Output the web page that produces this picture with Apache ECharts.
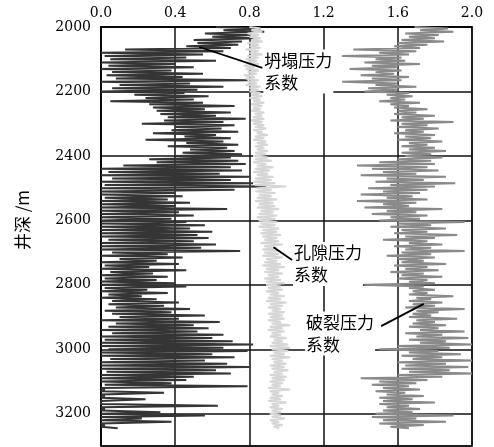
<!DOCTYPE html>
<html>
<head>
<meta charset="utf-8">
<script src="https://cdn.jsdelivr.net/npm/echarts@6/dist/echarts.min.js"></script>
<style>
  html, body { margin: 0; padding: 0; background: #fff; }
  #chart { width: 494px; height: 447px; }
</style>
</head>
<body>
<div id="chart"></div>
<script>
// depth samples every 10 m, 2000 .. 3240
const depthStart = 2000;
const depthStep = 10;
const xTicks = ['0.0', '0.4', '0.8', '1.2', '1.6', '2.0'];

// 坍塌压力系数: low / high swing of the log at each depth
const collapseLo = [
  0.62, 0.66, 0.56, 0.60, 0.50, 0.52, 0.46, 0.13, 0.00, 0.02,
  0.05, 0.00, 0.04, 0.00, 0.06, 0.03, 0.08, 0.00, 0.10, 0.06,
  0.00, 0.18, 0.24, 0.05, 0.26, 0.28, 0.30, 0.32, 0.36, 0.34,
  0.22, 0.40, 0.38, 0.28, 0.45, 0.24, 0.46, 0.36, 0.48, 0.44,
  0.40, 0.26, 0.30, 0.12, 0.00, 0.04, 0.00, 0.06, 0.00, 0.02,
  0.00, 0.00, 0.00, 0.02, 0.00, 0.00, 0.00, 0.00, 0.00, 0.00,
  0.00, 0.00, 0.00, 0.00, 0.00, 0.00, 0.04, 0.00, 0.00, 0.00,
  0.06, 0.00, 0.10, 0.00, 0.02, 0.00, 0.05, 0.00, 0.02, 0.00,
  0.00, 0.02, 0.00, 0.04, 0.00, 0.06, 0.04, 0.08, 0.02, 0.06,
  0.10, 0.00, 0.08, 0.04, 0.00, 0.06, 0.00, 0.02, 0.00, 0.00,
  0.04, 0.00, 0.00, 0.05, 0.00, 0.00, 0.00, 0.03, 0.00, 0.00,
  0.00, 0.02, 0.00, 0.00, 0.00, 0.00, 0.00, 0.00, 0.00, 0.00,
  0.00, 0.00, 0.00, 0.00, 0.00
];
const collapseHi = [
  0.86, 0.88, 0.80, 0.84, 0.76, 0.74, 0.70, 0.66, 0.55, 0.46,
  0.62, 0.40, 0.50, 0.38, 0.55, 0.44, 0.79, 0.48, 0.66, 0.52,
  0.45, 0.58, 0.50, 0.55, 0.72, 0.56, 0.70, 0.62, 0.78, 0.66,
  0.72, 0.65, 0.74, 0.62, 0.70, 0.66, 0.74, 0.68, 0.72, 0.76,
  0.70, 0.74, 0.78, 0.70, 0.76, 0.64, 0.80, 0.70, 0.82, 0.89,
  0.72, 0.40, 0.44, 0.36, 0.48, 0.40, 0.68, 0.42, 0.50, 0.38,
  0.46, 0.56, 0.48, 0.60, 0.52, 0.58, 0.50, 0.62, 0.54, 0.75,
  0.36, 0.44, 0.30, 0.42, 0.26, 0.46, 0.28, 0.36, 0.30, 0.40,
  0.46, 0.25, 0.36, 0.22, 0.30, 0.42, 0.34, 0.48, 0.38, 0.56,
  0.42, 0.64, 0.50, 0.58, 0.52, 0.66, 0.60, 0.71, 0.82, 0.66,
  0.79, 0.60, 0.72, 0.56, 0.68, 0.80, 0.62, 0.70, 0.50, 0.46,
  0.38, 0.79, 0.02, 0.34, 0.02, 0.24, 0.01, 0.63, 0.02, 0.32,
  0.56, 0.22, 0.38, 0.02, 0.09
];

// 孔隙压力系数
const poreLo = [
  0.80, 0.81, 0.79, 0.80, 0.81, 0.79, 0.80, 0.78, 0.80, 0.79,
  0.78, 0.79, 0.77, 0.78, 0.79, 0.77, 0.78, 0.79, 0.78, 0.80,
  0.80, 0.81, 0.80, 0.82, 0.81, 0.82, 0.81, 0.83, 0.82, 0.81,
  0.82, 0.83, 0.82, 0.84, 0.83, 0.82, 0.84, 0.83, 0.84, 0.83,
  0.82, 0.83, 0.82, 0.84, 0.83, 0.82, 0.84, 0.83, 0.82, 0.83,
  0.84, 0.83, 0.85, 0.84, 0.83, 0.85, 0.84, 0.86, 0.85, 0.84,
  0.85, 0.86, 0.85, 0.87, 0.86, 0.87, 0.88, 0.86, 0.88, 0.87,
  0.88, 0.87, 0.89, 0.88, 0.87, 0.89, 0.88, 0.90, 0.88, 0.89,
  0.89, 0.90, 0.89, 0.91, 0.90, 0.89, 0.91, 0.90, 0.92, 0.90,
  0.91, 0.90, 0.92, 0.91, 0.90, 0.92, 0.91, 0.93, 0.92, 0.91,
  0.92, 0.93, 0.91, 0.92, 0.93, 0.91, 0.92, 0.93, 0.91, 0.92,
  0.91, 0.92, 0.90, 0.91, 0.92, 0.91, 0.90, 0.92, 0.91, 0.92,
  0.91, 0.92, 0.91, 0.92, 0.93
];
const poreHi = [
  0.86, 0.87, 0.85, 0.86, 0.87, 0.85, 0.86, 0.85, 0.87, 0.85,
  0.84, 0.85, 0.83, 0.85, 0.84, 0.83, 0.85, 0.84, 0.86, 0.85,
  0.86, 0.87, 0.86, 0.88, 0.87, 0.86, 0.88, 0.87, 0.88, 0.87,
  0.88, 0.89, 0.87, 0.90, 0.88, 0.89, 0.90, 0.88, 0.90, 0.89,
  0.90, 0.92, 0.89, 0.93, 0.91, 0.90, 0.93, 0.92, 0.94, 1.00,
  0.92, 0.94, 0.92, 0.95, 0.93, 0.94, 0.96, 0.93, 0.95, 0.94,
  0.95, 0.94, 0.96, 0.95, 0.97, 0.95, 0.96, 0.98, 0.95, 0.97,
  0.96, 0.98, 0.95, 0.97, 0.99, 0.96, 0.98, 0.96, 0.97, 0.99,
  0.97, 0.98, 0.96, 0.99, 0.97, 1.00, 0.98, 0.97, 0.99, 0.98,
  0.99, 0.97, 1.02, 0.98, 0.99, 0.97, 1.00, 0.98, 1.01, 1.02,
  1.01, 0.99, 1.02, 0.98, 1.00, 0.99, 1.01, 0.98, 1.00, 0.99,
  0.98, 0.97, 1.02, 0.96, 0.98, 0.97, 1.00, 0.96, 0.98, 0.97,
  0.97, 0.99, 0.96, 0.98, 0.96
];

// 破裂压力系数
const fracLo = [
  1.69, 1.72, 1.64, 1.66, 1.62, 1.60, 1.58, 1.36, 1.50, 1.30,
  1.48, 1.42, 1.46, 1.34, 1.48, 1.40, 1.46, 1.30, 1.48, 1.44,
  1.42, 1.54, 1.56, 1.50, 1.56, 1.58, 1.60, 1.58, 1.62, 1.56,
  1.62, 1.60, 1.64, 1.58, 1.64, 1.60, 1.66, 1.62, 1.66, 1.62,
  1.64, 1.60, 1.50, 1.38, 1.46, 1.52, 1.40, 1.54, 1.48, 1.56,
  1.44, 1.52, 1.40, 1.54, 1.38, 1.52, 1.42, 1.54, 1.46, 1.56,
  1.50, 1.60, 1.56, 1.62, 1.58, 1.64, 1.52, 1.66, 1.58, 1.64,
  1.62, 1.54, 1.60, 1.62, 1.58, 1.64, 1.56, 1.62, 1.60, 1.66,
  1.42, 1.66, 1.68, 1.66, 1.70, 1.66, 1.68, 1.64, 1.70, 1.68,
  1.66, 1.70, 1.68, 1.66, 1.72, 1.64, 1.70, 1.66, 1.72, 1.60,
  1.50, 1.66, 1.62, 1.68, 1.60, 1.64, 1.62, 1.66, 1.60, 1.40,
  1.50, 1.46, 1.52, 1.48, 1.54, 1.50, 1.52, 1.50, 1.54, 1.52,
  1.48, 1.46, 1.52, 1.50, 1.56
];
const fracHi = [
  1.87, 1.90, 1.82, 1.80, 1.85, 1.76, 1.72, 1.70, 1.66, 1.62,
  1.64, 1.72, 1.60, 1.62, 1.58, 1.66, 1.62, 1.60, 1.70, 1.60,
  1.66, 1.68, 1.64, 1.72, 1.66, 1.76, 1.70, 1.80, 1.74, 1.90,
  1.76, 1.82, 1.74, 1.80, 1.78, 1.84, 1.76, 1.80, 1.86, 1.78,
  1.84, 1.78, 1.80, 1.76, 1.82, 1.70, 1.86, 1.74, 1.91, 1.80,
  1.76, 1.72, 1.68, 1.76, 1.70, 1.66, 1.84, 1.70, 1.76, 1.72,
  1.96, 1.78, 1.86, 1.76, 1.92, 1.80, 1.76, 1.84, 1.78, 1.96,
  1.78, 1.80, 1.74, 1.86, 1.76, 1.82, 1.74, 1.84, 1.76, 1.80,
  1.74, 1.80, 1.76, 1.90, 1.78, 1.84, 1.80, 1.96, 1.82, 1.78,
  1.92, 1.80, 1.86, 1.82, 1.96, 1.84, 1.98, 1.86, 2.00, 1.88,
  1.82, 1.94, 1.84, 2.00, 1.86, 1.98, 1.88, 2.00, 1.84, 1.76,
  1.70, 1.66, 1.72, 1.64, 1.74, 1.68, 1.80, 1.66, 1.72, 1.68,
  1.90, 1.70, 1.86, 1.74, 1.66
];

// label anchors in data units: [x, depth]
const labels = [
  { text: '坍塌压力\n系数', from: [0.53, 2062], to: [0.87, 2127], at: [0.875, 2138] },
  { text: '孔隙压力\n系数', from: [0.93, 2683], to: [1.03, 2723], at: [1.035, 2735] },
  { text: '破裂压力\n系数', from: [1.74, 2859], to: [1.51, 2928], at: [1.10, 2951] }
];

// the log swings between lo and hi, half a step apart
function zigzag(lo, hi) {
  const pts = [];
  lo.forEach((v, i) => {
    const d = depthStart + i * depthStep;
    pts.push([v, d]);
    pts.push([hi[i], d + depthStep / 2]);
  });
  return pts;
}

const chart = echarts.init(document.getElementById('chart'));
const numFont = '"DejaVu Serif", serif';
const cjkFont = '"Noto Sans CJK SC", sans-serif';

function logSeries(name, lo, hi, color) {
  return {
    name,
    type: 'line',
    data: zigzag(lo, hi),
    symbol: 'none',
    sampling: null,
    lineStyle: { color, width: 2 },
    z: 3
  };
}

chart.setOption({
  animation: false,
  grid: {
    left: 101, right: 22, top: 27, bottom: 1,
    show: true, borderColor: '#000', borderWidth: 1.5
  },
  xAxis: {
    type: 'value',
    position: 'top',
    min: 0, max: 2, interval: 0.4,
    axisLine: { show: true, lineStyle: { color: '#000', width: 1.5 } },
    axisTick: { show: false },
    axisLabel: {
      color: '#000', fontSize: 14, fontFamily: numFont, margin: 7,
      formatter: (v) => xTicks[Math.round(v / 0.4)]
    },
    splitLine: { show: true, lineStyle: { color: '#111', width: 1.5 } }
  },
  yAxis: {
    type: 'value',
    inverse: true,
    min: 2000, max: 3300, interval: 200,
    axisLine: { show: true, lineStyle: { color: '#000', width: 1.5 } },
    axisTick: { show: false },
    axisLabel: {
      color: '#000', fontSize: 14, fontFamily: numFont, margin: 10,
      showMaxLabel: false,
      formatter: (v) => String(v)
    },
    splitLine: { show: true, lineStyle: { color: '#111', width: 1.5 } }
  },
  series: [
    logSeries('坍塌压力系数', collapseLo, collapseHi, '#353535'),
    logSeries('孔隙压力系数', poreLo, poreHi, '#d6d6d6'),
    logSeries('破裂压力系数', fracLo, fracHi, '#8a8a8a')
  ]
});

// annotations placed from data anchors
const px = (p) => chart.convertToPixel({ gridIndex: 0 }, p);
const graphics = [{
  type: 'text',
  x: 23, y: 220,
  rotation: Math.PI / 2,
  style: {
    text: '井深 /m', fontSize: 17, fontFamily: cjkFont,
    fill: '#000', align: 'center', verticalAlign: 'middle'
  }
}];
labels.forEach((lb) => {
  const a = px(lb.from), b = px(lb.to), t = px(lb.at);
  graphics.push({
    type: 'line', z: 10,
    shape: { x1: a[0], y1: a[1], x2: b[0], y2: b[1] },
    style: { stroke: '#000', lineWidth: 1.8 }
  });
  graphics.push({
    type: 'text', z: 10,
    x: t[0], y: t[1],
    style: {
      text: lb.text, fontSize: 17, fontFamily: cjkFont, lineHeight: 22,
      fill: '#000', align: 'left', verticalAlign: 'middle',
      backgroundColor: '#fff', padding: [0, 1]
    }
  });
});
chart.setOption({ graphic: graphics });
</script>
</body>
</html>
